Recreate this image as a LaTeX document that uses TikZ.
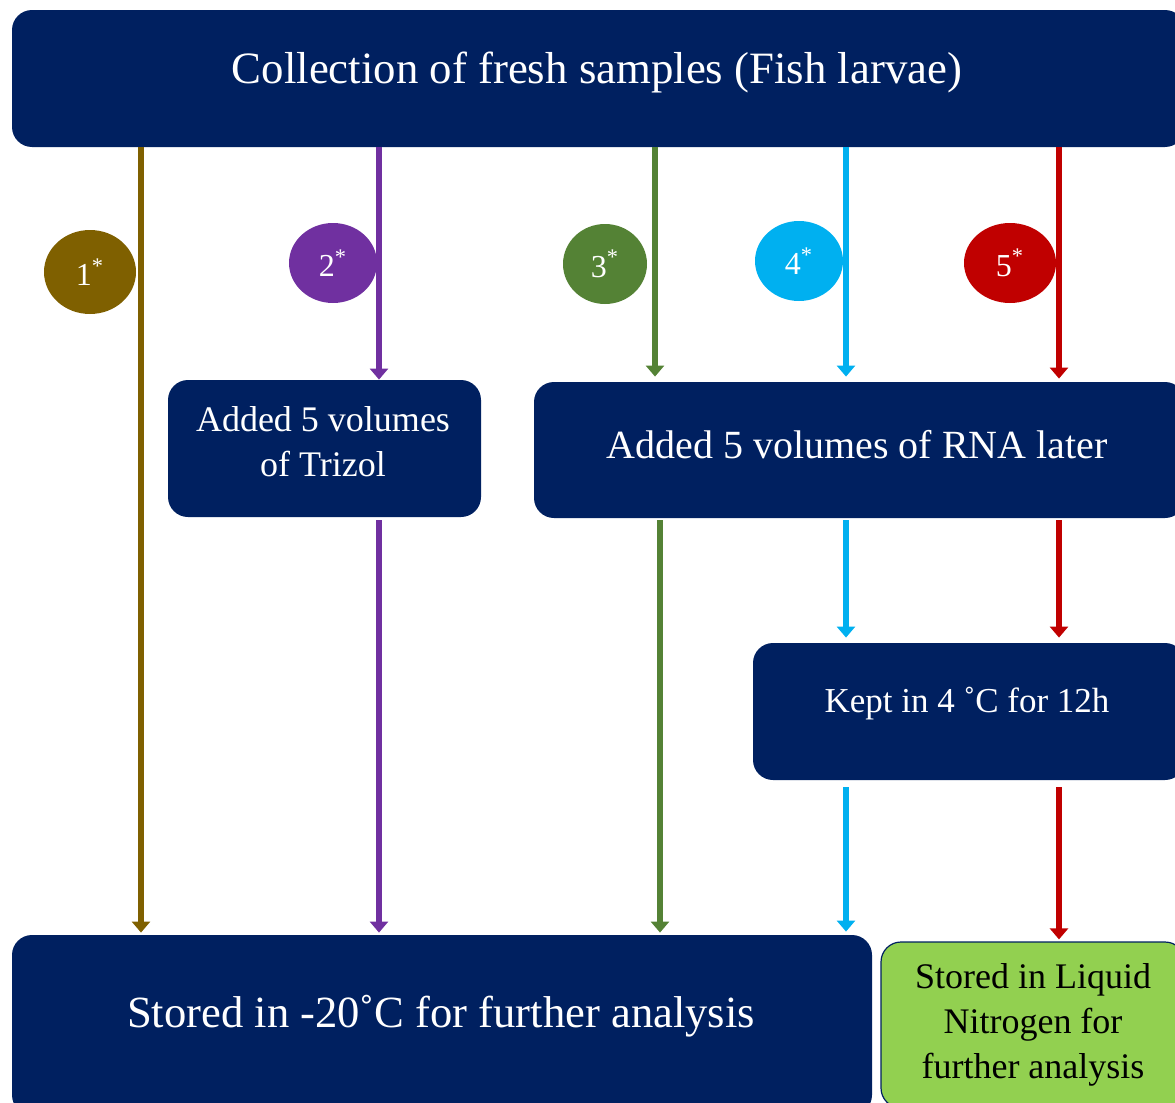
\documentclass[tikz,border=0pt]{standalone}
\usepackage{fontspec}
\setmainfont{Liberation Serif}
\usetikzlibrary{arrows.meta,shapes.geometric}
\definecolor{navy}{HTML}{002060}
\definecolor{brownline}{HTML}{7F6000}
\definecolor{purpleline}{HTML}{7030A0}
\definecolor{greenline}{HTML}{548235}
\definecolor{blueline}{HTML}{00B0F0}
\definecolor{redline}{HTML}{C00000}
\definecolor{lightgreen}{HTML}{92D050}

\begin{document}
\begin{tikzpicture}[x=0.5pt, y=-0.5pt,
		box/.style={fill=navy, rounded corners=10pt, inner sep=0pt},
		boxtext/.style={text=white, align=center, inner sep=0pt},
		num/.style={ellipse, fill=#1, text=white, inner sep=0pt, font=\fontsize{16}{19}\selectfont},
		arr/.style={draw=#1, line width=3pt, -{Triangle[width=9pt,length=5.5pt]}}]
		\useasboundingbox (0,0) rectangle (1175,1103);

		% Boxes
		\node[box, minimum width=586.5pt, minimum height=68.5pt] (top) at (598.5,78.5) {};
		\node[box, minimum width=156.5pt, minimum height=68.5pt] (trizol) at (324.5,448.5) {};
		\node[box, minimum width=325.5pt, minimum height=68pt] (rnalater) at (859.5,450) {};
		\node[box, minimum width=216pt, minimum height=68.5pt] (kept) at (969,711.5) {};
		\node[box, minimum width=430pt, minimum height=90pt] (store) at (442,1025) {};
		\node[box, fill=lightgreen, draw=navy, line width=0.6pt, minimum width=152pt, minimum height=83pt,
			align=center, font=\fontsize{18}{22.5}\selectfont] (nitro) at (1033,1025)
			{Stored in Liquid\\Nitrogen for\\further analysis};

		% Box texts
		\node[boxtext, font=\fontsize{22.4}{27}\selectfont] (toptext) at (597,72) {Collection of fresh samples (Fish larvae)};
		\node[boxtext, font=\fontsize{18}{22.5}\selectfont] (trizoltext) at (323,442) {Added 5 volumes\\of Trizol};
		\node[boxtext, font=\fontsize{20}{24}\selectfont] (rnatext) at (857,445) {Added 5 volumes of RNA later};
		\node[boxtext, font=\fontsize{17.5}{21}\selectfont] (kepttext) at (967,704) {Kept in 4 ˚C for 12h};
		\node[boxtext, font=\fontsize{22.3}{27}\selectfont] (storetext) at (441,1016) {Stored in -20˚C for further analysis};

		% Numbers
		\node[num=brownline, minimum width=46pt, minimum height=42pt] (c1) at (90,272) {1\textsuperscript{*}};
		\node[num=purpleline, minimum width=44pt, minimum height=40pt] (c2) at (333,263) {2\textsuperscript{*}};
		\node[num=greenline, minimum width=42pt, minimum height=40pt] (c3) at (605,264) {3\textsuperscript{*}};
		\node[num=blueline, minimum width=44pt, minimum height=40pt] (c4) at (799,261) {4\textsuperscript{*}};
		\node[num=redline, minimum width=46pt, minimum height=40pt] (c5) at (1010,263) {5\textsuperscript{*}};

		% Line positions
		\coordinate (x1) at (141,0);
		\coordinate (x2) at (379,0);
		\coordinate (x3) at (655,0);
		\coordinate (x3b) at (660,0);
		\coordinate (x4) at (846,0);
		\coordinate (x5) at (1059,0);

		% Arrows
		\draw[arr=brownline, shorten >=1pt] (top.south -| x1) -- (store.north -| x1);

		\draw[arr=purpleline] (top.south -| x2) -- (trizol.north -| x2);
		\draw[arr=purpleline, shorten <=1.5pt, shorten >=1pt] (trizol.south -| x2) -- (store.north -| x2);

		\draw[arr=greenline, shorten >=2.5pt] (top.south -| x3) -- (rnalater.north -| x3);
		\draw[arr=greenline, shorten <=1pt, shorten >=1pt] (rnalater.south -| x3b) -- (store.north -| x3b);

		\draw[arr=blueline, shorten >=2.5pt] (top.south -| x4) -- (rnalater.north -| x4);
		\draw[arr=blueline, shorten <=1pt, shorten >=2.5pt] (rnalater.south -| x4) -- (kept.north -| x4);
		\draw[arr=blueline, shorten <=3.5pt, shorten >=1.5pt] (kept.south -| x4) -- (store.north -| x4);

		\draw[arr=redline, shorten >=1.5pt] (top.south -| x5) -- (rnalater.north -| x5);
		\draw[arr=redline, shorten <=1pt, shorten >=2.5pt] (rnalater.south -| x5) -- (kept.north -| x5);
		\draw[arr=redline, shorten <=3.5pt, shorten >=1pt] (kept.south -| x5) -- (nitro.north -| x5);
	\end{tikzpicture}
\end{document}
